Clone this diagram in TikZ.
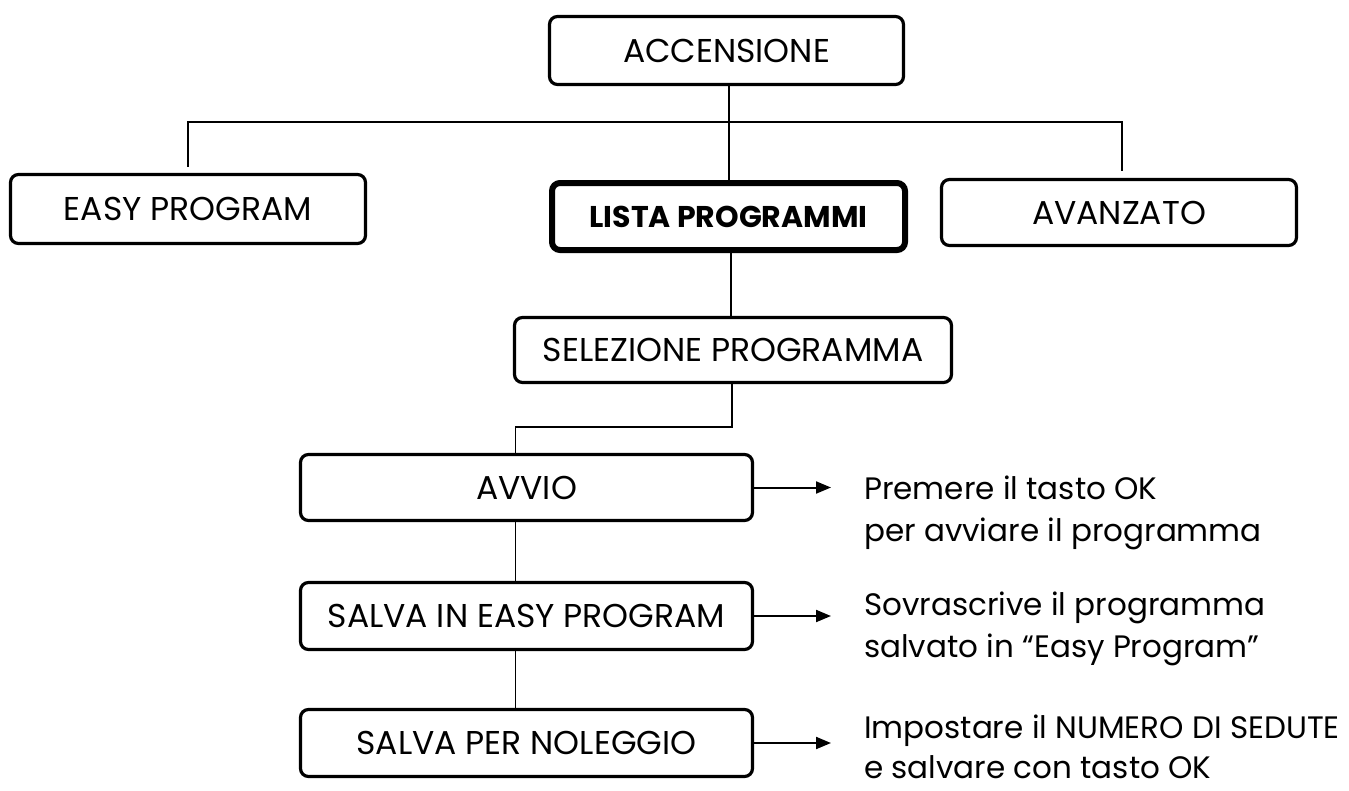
\documentclass[tikz,border=0pt]{standalone}
\usepackage{fontspec}
\setmainfont{Poppins}
\usetikzlibrary{arrows.meta}
\newcommand{\twolines}[2]{\vtop{\hbox{#1}\hbox{#2}}}
\begin{document}
\begin{tikzpicture}[x=1pt,y=-1pt,
  box/.style={draw, line width=3.2pt, rounded corners=8pt, inner sep=0pt,
    font=\fontsize{33}{39}\selectfont},
  boldbox/.style={box, line width=6pt, font=\fontsize{30}{36}\selectfont\bfseries},
  conn/.style={line width=1.6pt},
  arr/.style={line width=2pt, -{Triangle[length=15pt,width=12pt]}},
  desc/.style={inner sep=0pt, anchor=base west, font=\fontsize{31}{42}\selectfont}]
\useasboundingbox (0,0) rectangle (1349,790);
% boxes
\node[box, minimum width=354pt, minimum height=68pt] (acc) at (726.5,50.5) {ACCENSIONE};
\node[box, minimum width=355pt, minimum height=69pt] (easy) at (188,209) {EASY PROGRAM};
\node[boldbox, minimum width=353pt, minimum height=67pt] (lista) at (728.5,216.5) {\raisebox{-3pt}{LISTA PROGRAMMI}};
\node[box, minimum width=355pt, minimum height=66pt] (avz) at (1119,212.5) {AVANZATO};
\node[box, minimum width=437pt, minimum height=65pt] (sel) at (733,350) {SELEZIONE PROGRAMMA};
\node[box, minimum width=452pt, minimum height=66pt] (avvio) at (526.5,487.5) {AVVIO};
\node[box, minimum width=452pt, minimum height=67pt] (salvain) at (526.5,616) {SALVA IN EASY PROGRAM};
\node[box, minimum width=452pt, minimum height=67pt] (salvaper) at (526.5,743) {SALVA PER NOLEGGIO};
% descriptions
\node[desc] (d1) at (864,499) {\twolines{Premere il tasto OK}{per avviare il programma}};
\node[desc] (d2) at (864,615) {\twolines{Sovrascrive il programma}{salvato in “Easy Program”}};
\node[desc, font=\fontsize{31}{40}\selectfont] (d3) at (864,738) {\twolines{Impostare il NUMERO DI SEDUTE}{e salvare con tasto OK}};
% coordinates
\coordinate (barL) at (188,122);
\coordinate (barR) at (1122,122);
\coordinate (elb) at (0,427);
\coordinate (t1) at (831,487.5);
\coordinate (t2) at (831,616);
\coordinate (t3) at (831,743);
% connectors
\draw[conn] ([xshift=2.5pt]acc.south) -- ([xshift=2.5pt]acc.south |- lista.north);
\draw[conn] ([yshift=6pt]easy.north) -- (easy.north |- barL) -- (barR) -- ([yshift=7pt]barR |- avz.north);
\draw[conn] ([xshift=2.5pt]lista.south) -- ([xshift=2.5pt]lista.south |- sel.north);
\draw[conn] ([xshift=-1pt]sel.south) |- ([xshift=-11pt]avvio.north |- elb) -- ([xshift=-11pt]avvio.north);
\draw[conn] ([xshift=-11pt]avvio.south) -- ([xshift=-11pt]salvain.north);
\draw[conn] ([xshift=-11pt]salvain.south) -- ([xshift=-11pt]salvaper.north);
\draw[arr] (avvio.east) -- (t1);
\draw[arr] (salvain.east) -- (t2);
\draw[arr] (salvaper.east) -- (t3);
\end{tikzpicture}
\end{document}
